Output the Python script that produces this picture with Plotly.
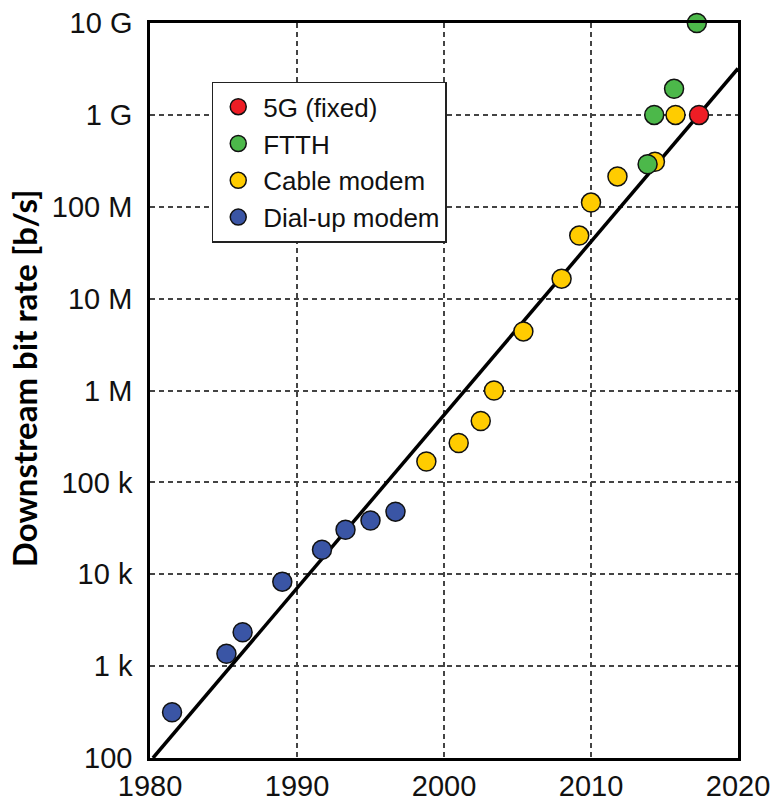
import plotly.graph_objects as go

# Downstream bit rate history by access technology (year, bit/s)
dialup_year = [1981.5, 1985.2, 1986.3, 1989.0, 1991.7, 1993.3, 1995.0, 1996.7]
dialup_rate = [315, 1360, 2340, 8300, 18500, 30500, 38500, 48000]

cable_year = [1998.8, 2001.0, 2002.5, 2003.4, 2005.4, 2008.0, 2009.2, 2010.0, 2011.8, 2014.35, 2015.75]
cable_rate = [169e3, 268e3, 465e3, 1.0e6, 4.4e6, 16.5e6, 48.5e6, 111e6, 214e6, 309e6, 1.0e9]

ftth_year = [2013.85, 2014.3, 2015.65, 2017.2]
ftth_rate = [290e6, 1.0e9, 1.92e9, 10e9]

fiveg_year = [2017.35]
fiveg_rate = [1.0e9]

# Exponential trend line (straight on the log axis)
trend_year = [1980.2, 2020.0]
trend_rate = [100, 3.2e9]

# Axis ticks
x_ticks = [1980, 1990, 2000, 2010, 2020]
y_ticks = [1e2, 1e3, 1e4, 1e5, 1e6, 1e7, 1e8, 1e9, 1e10]
y_tick_text = ["100", "1 k", "10 k", "100 k", "1 M", "10 M", "100 M", "1 G", "10 G"]

series = [
    ("Dial-up modem", dialup_year, dialup_rate, "#3A55A5"),
    ("Cable modem", cable_year, cable_rate, "#FFCC00"),
    ("FTTH", ftth_year, ftth_rate, "#4CB84A"),
    ("5G (fixed)", fiveg_year, fiveg_rate, "#EE1D25"),
]

FONT = "Liberation Sans, Arial, sans-serif"

fig = go.Figure()
fig.add_trace(go.Scatter(
    x=trend_year, y=trend_rate, mode="lines",
    line=dict(color="black", width=3.5),
    showlegend=False, hoverinfo="skip",
))
for name, xs, ys, color in series:
    fig.add_trace(go.Scatter(
        x=xs, y=ys, mode="markers", name=name,
        marker=dict(size=19, color=color, line=dict(color="#111111", width=1.5)),
        cliponaxis=False,
    ))

grid = dict(showgrid=True, gridcolor="#444444", gridwidth=1.5, griddash="5px,4px")

fig.update_xaxes(
    range=[1980, 2020], tickvals=x_ticks, ticks="",
    ticklabelstandoff=0, automargin=False,
    showline=True, linecolor="black", linewidth=2.5, mirror=True,
    zeroline=False,
    tickfont=dict(family=FONT, size=29, color="#111111"),
    **grid,
)
fig.update_yaxes(
    type="log", range=[2, 10], tickvals=y_ticks, ticktext=y_tick_text, ticks="",
    ticklabelstandoff=9, automargin=False,
    showline=True, linecolor="black", linewidth=2.5, mirror=True,
    zeroline=False,
    tickfont=dict(family=FONT, size=29, color="#111111"),
    **grid,
)

fig.add_annotation(
    text="Downstream bit rate [b/s]", textangle=-90,
    xref="paper", yref="paper", x=-0.214, y=0.517,
    xanchor="center", yanchor="middle", showarrow=False,
    font=dict(family="Lato, sans-serif", size=33, weight=700, color="black"),
)

fig.update_layout(
    width=771, height=808,
    margin=dict(l=150, r=33, t=23, b=50),
    paper_bgcolor="white", plot_bgcolor="white",
    showlegend=True,
    legend=dict(
        x=0.105, y=0.92, xanchor="left", yanchor="top",
        traceorder="reversed", itemwidth=40,
        entrywidth=240, entrywidthmode="pixels",
        bgcolor="white", bordercolor="#222222", borderwidth=1.5,
        font=dict(family=FONT, size=26, color="#111111"),
    ),
)

fig.write_html("out.html")
